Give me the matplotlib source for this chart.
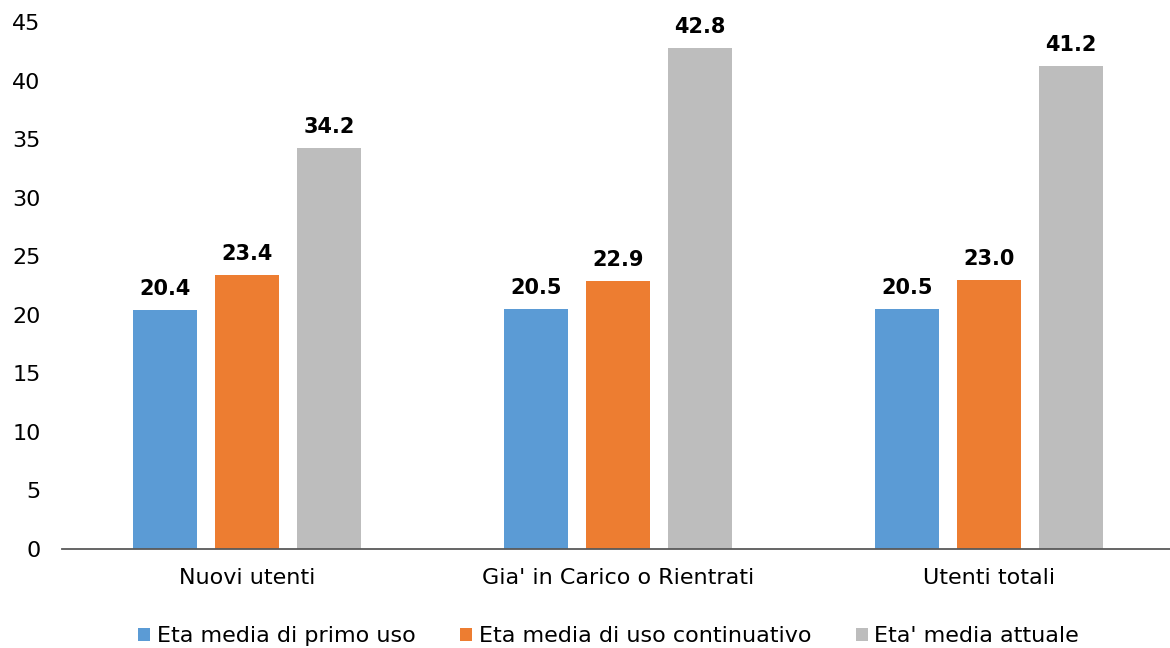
import numpy as np
import matplotlib.pyplot as plt

categories = ["Nuovi utenti", "Gia' in Carico o Rientrati", "Utenti totali"]
series_names = ["Eta media di primo uso", "Eta media di uso continuativo", "Eta' media attuale"]
primo_uso = [20.4, 20.5, 20.5]
uso_continuativo = [23.4, 22.9, 23.0]
eta_attuale = [34.2, 42.8, 41.2]
y_ticks = [0, 5, 10, 15, 20, 25, 30, 35, 40, 45]

colors = ["#5B9BD5", "#ED7D31", "#BDBDBD"]

fig = plt.figure(figsize=(11.7, 6.48), dpi=100)
ax = fig.add_axes([0.0526, 0.1528, 0.951, 0.8133])

x = np.arange(len(categories))
width = 0.173
pitch = 0.221

for i, (vals, name) in enumerate(zip([primo_uso, uso_continuativo, eta_attuale], series_names)):
    bars = ax.bar(x + (i - 1) * pitch, vals, width, color=colors[i], label=name)
    for b, v in zip(bars, vals):
        ax.annotate(f"{v:.1f}", (b.get_x() + b.get_width() / 2, v),
                    xytext=(0, 8), textcoords="offset points",
                    ha="center", va="bottom", fontsize=15, fontweight="bold")

ax.set_xlim(-0.5, 2.5)
ax.set_ylim(0, 45)
ax.set_yticks(y_ticks)
ax.set_xticks(x)
ax.set_xticklabels(categories, fontsize=16)
ax.tick_params(axis="y", length=0, labelsize=16, pad=15)
ax.tick_params(axis="x", length=0, pad=14)

for s in ["top", "right", "left"]:
    ax.spines[s].set_visible(False)
ax.spines["bottom"].set_color("#595959")
ax.spines["bottom"].set_linewidth(1.3)

fig.legend(loc="lower center", ncol=3, frameon=False, fontsize=16,
           handlelength=0.55, handleheight=0.55, handletextpad=0.3,
           columnspacing=2.0, bbox_to_anchor=(0.52, -0.028))

fig.savefig("out.png", dpi=100)
